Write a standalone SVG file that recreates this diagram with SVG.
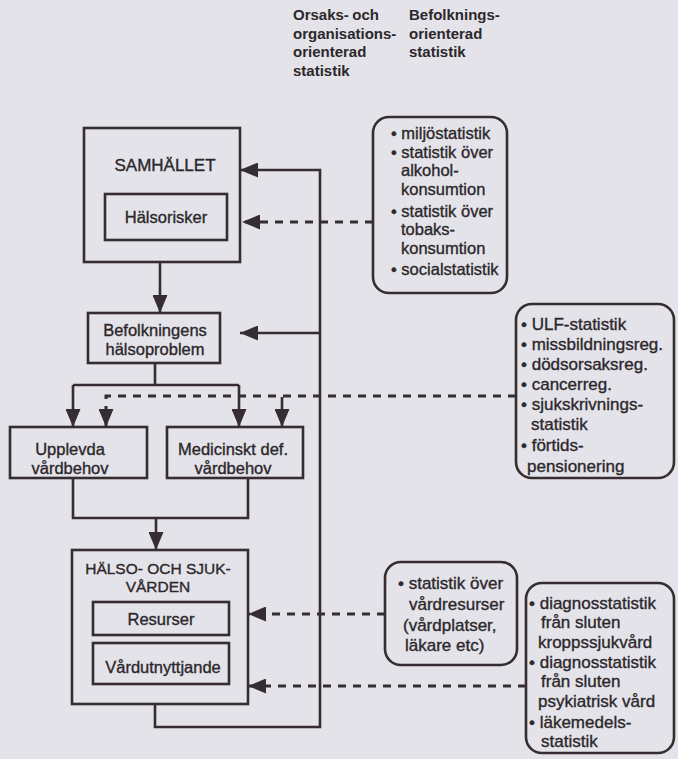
<svg xmlns="http://www.w3.org/2000/svg" width="678" height="759" viewBox="0 0 678 759">
  <style>
    .box { fill: none; stroke: #352d31; stroke-width: 2.6; }
    .list { fill: none; stroke: #352d31; stroke-width: 2.6; }
    .txt { font-family: "Liberation Sans", Arial, sans-serif; font-size: 16.5px; fill: #2c272b; stroke: #2c272b; stroke-width: 0.35; }
    .lst { font-size: 17px; }
    .mid { text-anchor: middle; }
    .head { font-family: "Liberation Sans", Arial, sans-serif; font-size: 15px; font-weight: bold; fill: #2c272b; }
    .solid { fill: none; stroke: #352d31; stroke-width: 2.6; }
    .dash { fill: none; stroke: #352d31; stroke-width: 3; stroke-dasharray: 8 7; }
  </style>
  <defs>
    <marker id="head" markerUnits="userSpaceOnUse" markerWidth="18" markerHeight="15" refX="18" refY="7.5" orient="auto" viewBox="0 0 18 15">
      <path d="M0,0 L18,7.5 L0,15 Z" fill="#352d31"/>
    </marker>
  </defs>

  <rect width="678" height="759" fill="#e3e3e9"/>

  <!-- column headings -->
  <g id="heading-cause">
    <text class="head" x="293" y="20">Orsaks-</text>
    <text class="head" x="379" y="20" text-anchor="end">och</text>
    <text class="head" x="293" y="38.5">organisations-</text>
    <text class="head" x="293" y="57">orienterad</text>
    <text class="head" x="293" y="75.5">statistik</text>
  </g>
  <g id="heading-population">
    <text class="head" x="409" y="20">Befolknings-</text>
    <text class="head" x="409" y="38.5">orienterad</text>
    <text class="head" x="409" y="57">statistik</text>
  </g>

  <!-- connectors -->
  <g id="connectors">
    <!-- main flow -->
    <path class="solid" d="M160,262 V313" marker-end="url(#head)"/>
    <path class="solid" d="M155,363 V385 M73,385 H239"/>
    <path class="solid" d="M73,385 V427" marker-end="url(#head)"/>
    <path class="solid" d="M239,385 V427" marker-end="url(#head)"/>
    <path class="solid" d="M73,478 V518 H248 V478"/>
    <path class="solid" d="M156,518 V550" marker-end="url(#head)"/>
    <!-- feedback loop -->
    <path class="solid" d="M155,704 V727 H320 V170 H240" marker-end="url(#head)"/>
    <path class="solid" d="M320,333 H240" marker-end="url(#head)"/>
    <!-- statistics sources -->
    <path class="dash" d="M373,222 H242" marker-end="url(#head)"/>
    <path class="dash" d="M516,396 H106 V427" marker-end="url(#head)"/>
    <path class="solid" d="M282,397 V427" marker-end="url(#head)"/>
    <path class="dash" d="M385,614 H248" marker-end="url(#head)"/>
    <path class="dash" d="M526,686 H248" marker-end="url(#head)"/>
  </g>

  <!-- society -->
  <g id="samhallet">
    <rect class="box" x="84" y="128" width="156" height="134"/>
    <text class="txt mid" x="165" y="171" style="font-size:17px">SAMHÄLLET</text>
  </g>
  <g id="halsorisker">
    <rect class="box" x="105" y="194" width="122" height="46"/>
    <text class="txt mid" x="166" y="223">Hälsorisker</text>
  </g>

  <g id="befolkningens">
    <rect class="box" x="88" y="313" width="132" height="50"/>
    <text class="txt mid" x="155" y="336">Befolkningens</text>
    <text class="txt mid" x="155" y="355">hälsoproblem</text>
  </g>

  <g id="upplevda">
    <rect class="box" x="10" y="427" width="137" height="51"/>
    <text class="txt mid" x="70" y="455">Upplevda</text>
    <text class="txt mid" x="70" y="474">vårdbehov</text>
  </g>
  <g id="medicinskt">
    <rect class="box" x="167" y="427" width="136" height="51"/>
    <text class="txt mid" x="233" y="455">Medicinskt def.</text>
    <text class="txt mid" x="233" y="474">vårdbehov</text>
  </g>

  <!-- health care -->
  <g id="halso-sjukvarden">
    <rect class="box" x="72" y="550" width="176" height="154"/>
    <text class="txt mid" x="158" y="574" style="font-size:15.5px">HÄLSO- OCH SJUK-</text>
    <text class="txt mid" x="158" y="592" style="font-size:15.5px">VÅRDEN</text>
  </g>
  <g id="resurser">
    <rect class="box" x="93" y="602" width="136" height="33"/>
    <text class="txt mid" x="161" y="625">Resurser</text>
  </g>
  <g id="vardutnyttjande">
    <rect class="box" x="93" y="643" width="136" height="41"/>
    <text class="txt mid" x="163" y="673">Vårdutnyttjande</text>
  </g>

  <!-- statistics lists -->
  <g id="stat-orsak">
    <rect class="list" x="373" y="117" width="134" height="176" rx="16"/>
    <text class="txt" x="391" y="139">• miljöstatistik</text>
    <text class="txt" x="391" y="158">• statistik över</text>
    <text class="txt" x="401" y="176">alkohol-</text>
    <text class="txt" x="401" y="195">konsumtion</text>
    <text class="txt" x="391" y="217">• statistik över</text>
    <text class="txt" x="401" y="235">tobaks-</text>
    <text class="txt" x="401" y="254">konsumtion</text>
    <text class="txt" x="391" y="275">• socialstatistik</text>
  </g>

  <g id="stat-befolkning">
    <rect class="list" x="516" y="304" width="158" height="174" rx="16"/>
    <text class="txt lst" x="521" y="330">• ULF-statistik</text>
    <text class="txt lst" x="521" y="350">• missbildningsreg.</text>
    <text class="txt lst" x="521" y="370">• dödsorsaksreg.</text>
    <text class="txt lst" x="521" y="390">• cancerreg.</text>
    <text class="txt lst" x="521" y="410">• sjukskrivnings-</text>
    <text class="txt lst" x="531" y="430">statistik</text>
    <text class="txt lst" x="521" y="451">• förtids-</text>
    <text class="txt lst" x="527" y="472">pensionering</text>
  </g>

  <g id="stat-vardresurser">
    <rect class="list" x="385" y="562" width="132" height="103" rx="16"/>
    <text class="txt lst" x="398" y="589">• statistik över</text>
    <text class="txt lst" x="409" y="610">vårdresurser</text>
    <text class="txt lst" x="403" y="631">(vårdplatser,</text>
    <text class="txt lst" x="405" y="651">läkare etc)</text>
  </g>

  <g id="stat-diagnos">
    <rect class="list" x="526" y="583" width="148" height="170" rx="16"/>
    <text class="txt lst" x="529" y="609">• diagnosstatistik</text>
    <text class="txt lst" x="541" y="628">från sluten</text>
    <text class="txt lst" x="538" y="648">kroppssjukvård</text>
    <text class="txt lst" x="529" y="668">• diagnosstatistik</text>
    <text class="txt lst" x="541" y="687">från sluten</text>
    <text class="txt lst" x="538" y="707">psykiatrisk vård</text>
    <text class="txt lst" x="529" y="728">• läkemedels-</text>
    <text class="txt lst" x="541" y="747">statistik</text>
  </g>
</svg>
